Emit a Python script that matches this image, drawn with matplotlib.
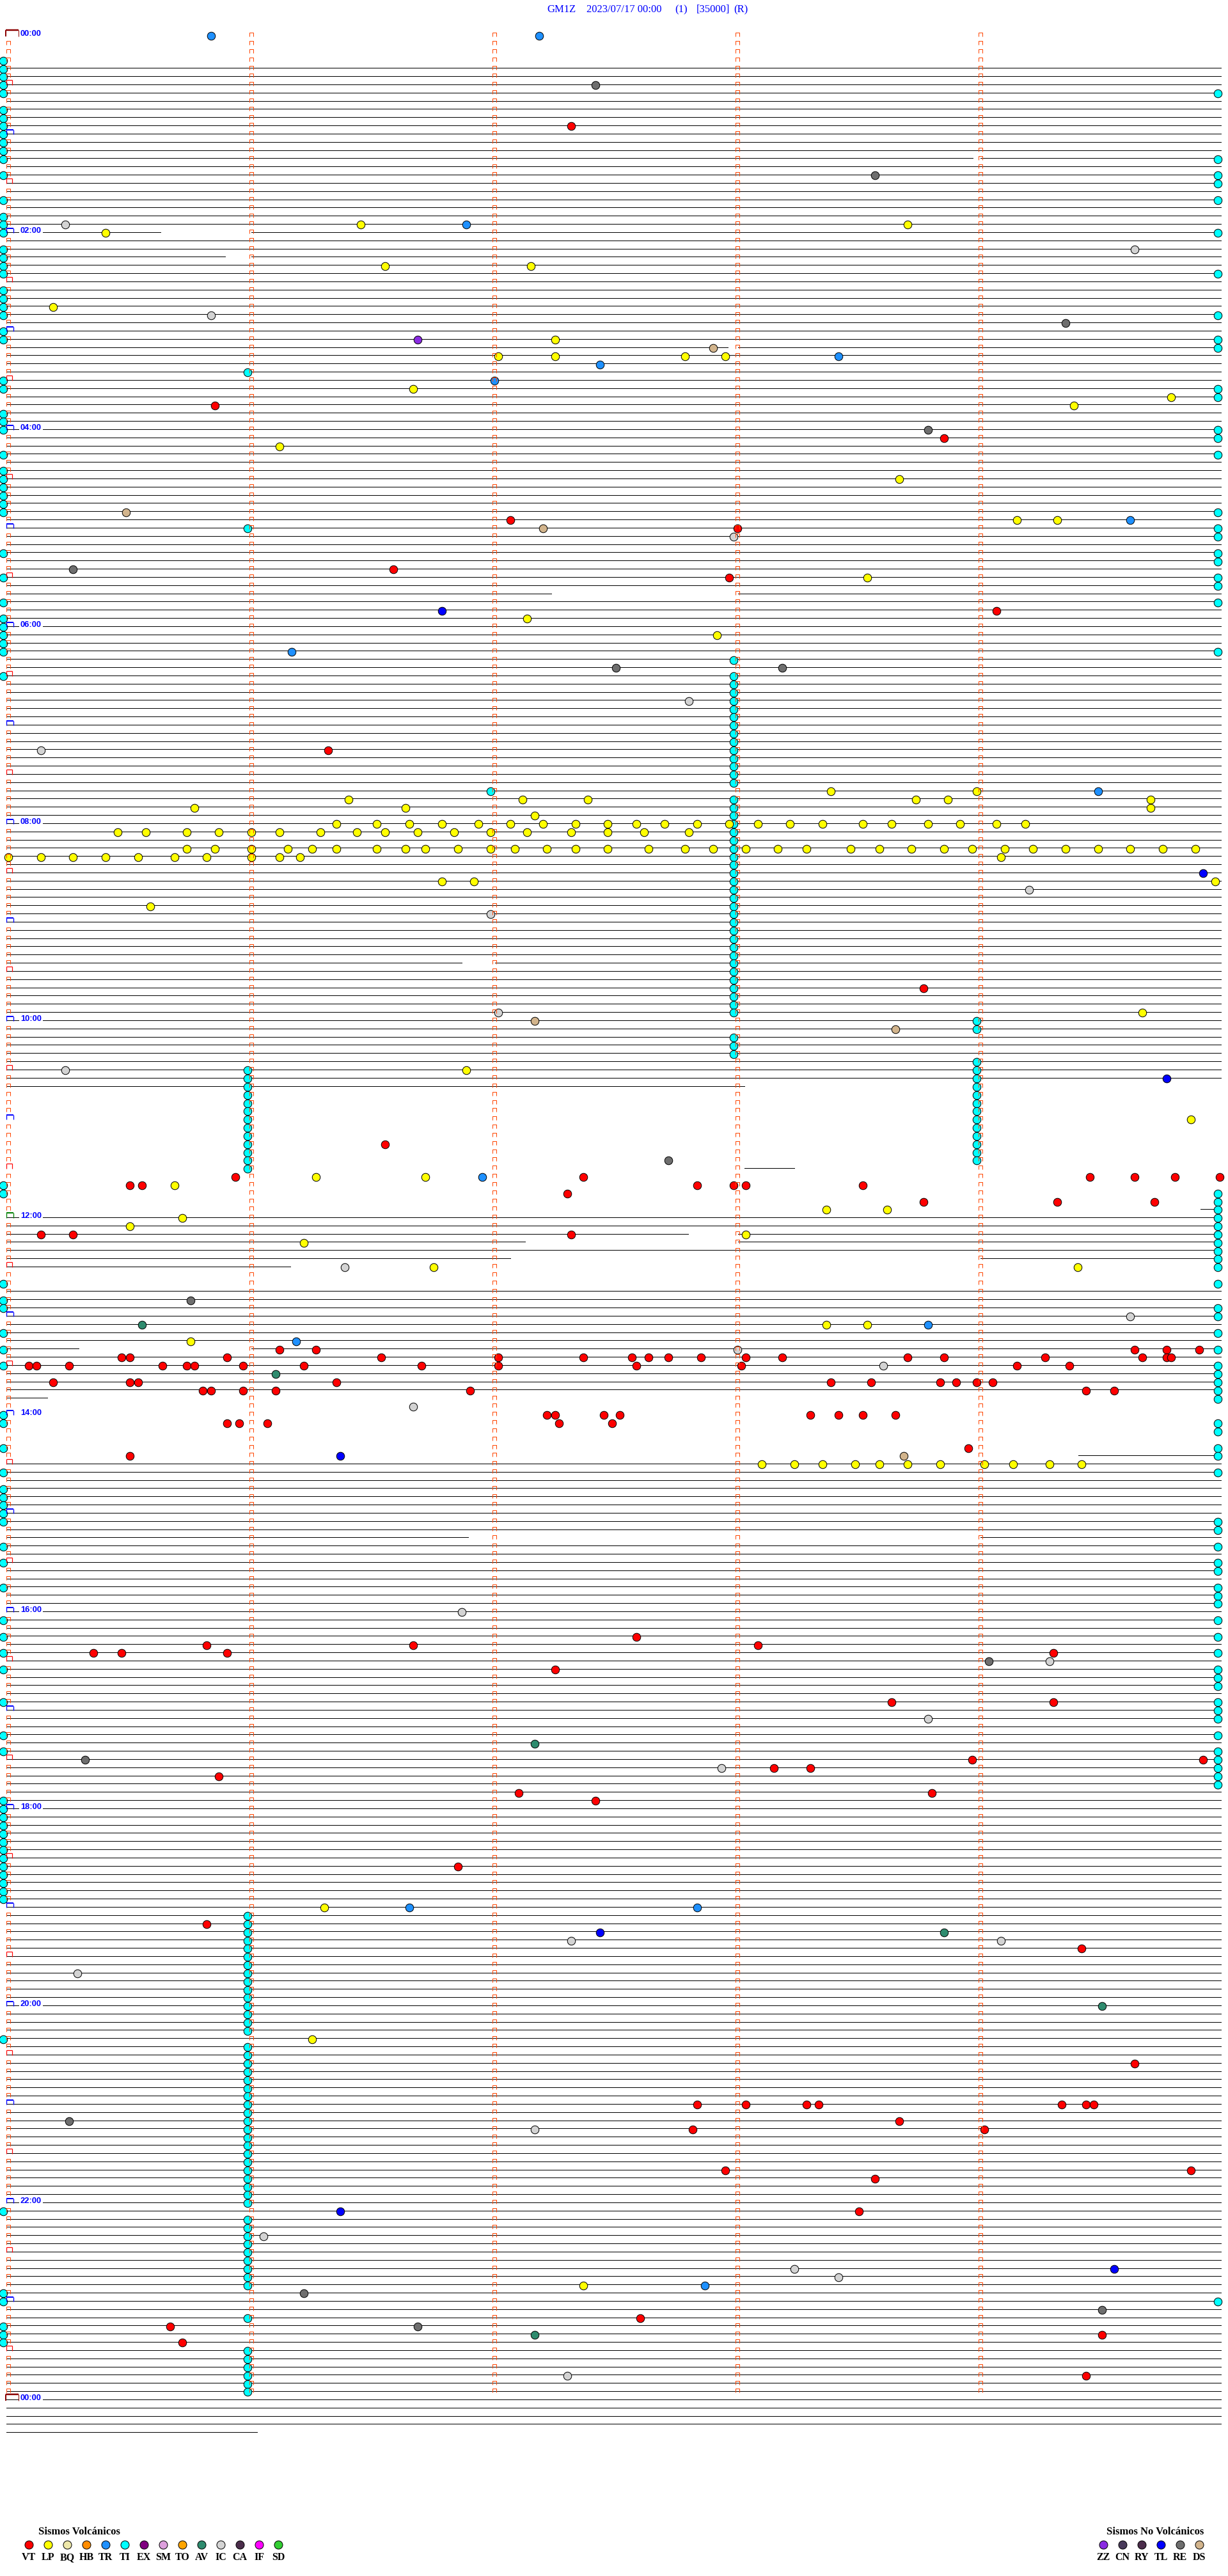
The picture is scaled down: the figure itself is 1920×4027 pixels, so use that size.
import matplotlib
matplotlib.use("Agg")
import matplotlib.pyplot as plt
from matplotlib.collections import LineCollection
from matplotlib.path import Path

# ---------------- data ----------------
title_parts = ["GM1Z", "2023/07/17 00:00", "(1)", "[35000]", "(R)"]
title_x_px = [855, 917, 1055, 1089, 1147]

hour_label_rows = [0, 24, 48, 72, 96, 120, 144, 168, 192, 216, 240, 264, 288]
hour_labels = ["00:00", "02:00", "04:00", "06:00", "08:00", "10:00", "12:00",
               "14:00", "16:00", "18:00", "20:00", "22:00", "00:00"]

n_rows = 293          # 5-minute rows
marker_rows = 288      # rows carrying minute ticks
minute_ticks = [0, 60, 120, 180, 240]
trace_start, trace_end = -0.45, 299.4

# gaps in the trace: (row, from second, to second)
gaps = [
    (0, -1, 300), (1, -1, 300), (2, -1, 300), (3, -1, 300),
    (15, 238.1, 240.0), (24, 37.6, 60.0), (27, 53.5, 60.0), (38, 177.7, 180.2),
    (68, 134.0, 180.2), (113, 111.9, 120.1), (128, 181.8, 300),
    (129, -1, 300), (130, -1, 300), (131, -1, 300), (132, -1, 300), (133, -1, 300),
    (134, -1, 300), (135, -1, 300), (136, -1, 300), (137, -1, 300),
    (138, -1, 181.8), (138, 194.0, 300),
    (139, -1, 300), (140, -1, 300), (141, -1, 300), (142, -1, 300),
    (143, -1, 294.3), (146, 167.8, 180.2), (147, 127.5, 180.2), (149, 123.9, 240.0),
    (150, 69.6, 300), (151, -1, 300), (152, -1, 300), (160, 17.4, 60.0),
    (166, 9.6, 300), (167, -1, 300), (168, -1, 300), (169, -1, 300), (170, -1, 300),
    (171, -1, 300), (172, -1, 300), (173, -1, 264.2), (183, 113.6, 240.0),
    (292, 61.4, 300),
]

# events: (row, second within the 5-minute row)
vt_events = [
    (11, 139), (45, 51), (49, 231), (59, 124), (60, 180), (65, 95), (66, 178), (70, 244),
    (87, 79), (116, 226), (135, 93),
    (139, 56), (139, 142), (139, 267), (139, 278), (139, 288), (139, 299),
    (140, 30), (140, 33), (140, 170), (140, 179), (140, 182), (140, 211),
    (141, 138), (142, 226), (142, 259), (142, 283), (146, 8), (146, 16), (146, 139),
    (160, 67), (160, 76), (160, 278), (160, 286), (160, 294),
    (161, 28), (161, 30), (161, 54), (161, 92), (161, 121), (161, 142), (161, 154),
    (161, 158), (161, 163), (161, 171), (161, 182), (161, 191), (161, 222), (161, 231),
    (161, 256), (161, 280), (161, 286), (161, 287),
    (162, 5), (162, 7), (162, 15), (162, 38), (162, 44), (162, 46), (162, 58), (162, 73),
    (162, 102), (162, 121), (162, 155), (162, 181), (162, 249), (162, 262),
    (164, 11), (164, 30), (164, 32), (164, 81), (164, 203), (164, 213), (164, 230),
    (164, 234), (164, 239), (164, 243),
    (165, 48), (165, 50), (165, 58), (165, 66), (165, 114), (165, 266), (165, 273),
    (168, 133), (168, 135), (168, 147), (168, 151), (168, 198), (168, 205), (168, 211), (168, 219),
    (169, 54), (169, 57), (169, 64), (169, 136), (169, 149),
    (172, 237), (173, 30), (195, 155), (196, 49), (196, 100), (196, 185),
    (197, 21), (197, 28), (197, 54), (197, 258), (199, 135), (203, 218), (203, 258),
    (210, 238), (210, 295), (211, 189), (211, 198), (212, 52), (214, 126), (214, 228),
    (215, 145), (223, 111), (230, 49), (233, 265), (247, 278),
    (252, 170), (252, 182), (252, 197), (252, 200), (252, 260), (252, 266), (252, 268),
    (254, 220), (255, 169), (255, 241), (260, 177), (260, 292), (261, 214), (265, 210),
    (278, 156), (279, 40), (280, 270), (281, 43), (285, 266),
]

lp_events = [
    (23, 87), (23, 222), (24, 24), (28, 93), (28, 129), (33, 11), (37, 135),
    (39, 121), (39, 135), (39, 167), (39, 177), (43, 100), (44, 287), (45, 263), (50, 67),
    (54, 220), (59, 249), (59, 259), (66, 212), (71, 128), (73, 175), (92, 203), (92, 239),
    (93, 84), (93, 127), (93, 143), (93, 224), (93, 232), (93, 282),
    (94, 46), (94, 98), (94, 282), (95, 130),
    (96, 81), (96, 91), (96, 99), (96, 107), (96, 116), (96, 124), (96, 132), (96, 140),
    (96, 148), (96, 155), (96, 162), (96, 170), (96, 178), (96, 185), (96, 193), (96, 201),
    (96, 211), (96, 218), (96, 227), (96, 235), (96, 244), (96, 251),
    (97, 27), (97, 34), (97, 44), (97, 52), (97, 60), (97, 67), (97, 77), (97, 86), (97, 93),
    (97, 101), (97, 110), (97, 119), (97, 128), (97, 139), (97, 148), (97, 157), (97, 168),
    (99, 44), (99, 51), (99, 60), (99, 69), (99, 75), (99, 81), (99, 91), (99, 98), (99, 103),
    (99, 111), (99, 119), (99, 125), (99, 133), (99, 140), (99, 148), (99, 158), (99, 167),
    (99, 174), (99, 182), (99, 190), (99, 197), (99, 208), (99, 215), (99, 223), (99, 231),
    (99, 238), (99, 246), (99, 253), (99, 261), (99, 269), (99, 277), (99, 285), (99, 293),
    (100, 0), (100, 8), (100, 16), (100, 24), (100, 32), (100, 41), (100, 49), (100, 60),
    (100, 67), (100, 72), (100, 245),
    (103, 107), (103, 115), (103, 298), (106, 35), (119, 280), (126, 113), (132, 292),
    (139, 76), (139, 103), (140, 41), (143, 202), (143, 217), (144, 43), (145, 30),
    (146, 182), (147, 73), (150, 105), (150, 264), (157, 202), (157, 212), (159, 45),
    (174, 186), (174, 194), (174, 201), (174, 209), (174, 215), (174, 222), (174, 230),
    (174, 241), (174, 248), (174, 257), (174, 265),
    (228, 78), (244, 75), (274, 142),
]

tr_events = [(0, 50), (0, 131), (23, 113), (39, 205), (40, 146), (42, 120), (59, 277),
             (75, 70), (92, 269), (139, 117), (157, 227), (159, 71), (228, 99), (228, 170),
             (274, 172)]

tl_events = [(70, 107), (102, 295), (127, 286), (173, 82), (231, 146), (265, 82), (272, 273)]

re_events = [(6, 145), (17, 214), (35, 261), (48, 227), (65, 16), (77, 150), (77, 191),
             (137, 163), (154, 45), (198, 242), (210, 19), (254, 15), (275, 73), (277, 270),
             (279, 101)]

ic_events = [(23, 14), (26, 278), (34, 50), (61, 179), (81, 168), (87, 8), (104, 252),
             (107, 119), (119, 121), (126, 14), (150, 83), (156, 277), (160, 180), (162, 216),
             (167, 100), (192, 112), (198, 257), (205, 227), (211, 176), (232, 139), (232, 245),
             (236, 17), (255, 130), (268, 63), (272, 194), (273, 205), (285, 138)]

ds_events = [(38, 174), (58, 29), (60, 132), (120, 130), (121, 219), (173, 221)]
zz_events = [(37, 101)]
av_events = [(157, 33), (163, 66), (208, 130), (231, 231), (240, 270), (280, 130)]

# tremor (TI) marks, grouped by the second where they sit
ti_left_rows = [3, 4, 5, 6, 7, 9, 10, 11, 12, 13, 14, 15, 17, 20, 22, 23, 24, 26, 27, 28, 29,
                31, 32, 33, 34, 36, 37, 42, 43, 46, 47, 48, 51, 53, 54, 55, 56, 57, 58, 63, 66,
                69, 71, 72, 73, 74, 75, 78, 140, 141, 152, 154, 155, 158, 160, 162, 168, 169,
                172, 175, 177, 178, 179, 180, 181, 184, 186, 189, 193, 195, 197, 199, 203, 207,
                209, 215, 216, 217, 218, 219, 220, 221, 222, 223, 224, 225, 226, 227, 244, 265,
                275, 276, 279, 280, 281]
ti_right_rows = [7, 15, 17, 18, 20, 24, 29, 34, 37, 38, 43, 44, 48, 49, 51, 58, 60, 61, 63, 64,
                 66, 67, 69, 75, 141, 142, 143, 144, 145, 146, 147, 148, 149, 150, 152, 155, 156,
                 158, 160, 162, 163, 164, 165, 166, 169, 170, 172, 173, 175, 181, 182, 184, 186,
                 187, 189, 190, 191, 193, 195, 197, 199, 200, 201, 203, 204, 205, 207, 209, 210,
                 211, 212, 213, 276]
ti_59_rows = [41, 60, 126, 127, 128, 129, 130, 131, 132, 133, 134, 135, 136, 137, 138,
              229, 230, 231, 232, 233, 234, 235, 236, 237, 238, 239, 240, 241, 242, 243,
              245, 246, 247, 248, 249, 250, 251, 252, 253, 254, 255, 256, 257, 258, 259, 260,
              261, 262, 263, 264, 266, 267, 268, 269, 270, 271, 272, 273, 274, 278,
              282, 283, 284, 285, 286, 287]
ti_179_rows = [76, 78, 79, 80, 81, 82, 83, 84, 85, 86, 87, 88, 89, 90, 91,
               93, 94, 95, 96, 97, 98, 99, 100, 101, 102, 103, 104, 105, 106, 107, 108, 109,
               110, 111, 112, 113, 114, 115, 116, 117, 118, 119, 122, 123, 124]
ti_239_rows = [120, 121, 125, 126, 127, 128, 129, 130, 131, 132, 133, 134, 135, 136, 137]
ti_other = [(92, 119)]
ti_columns = {-1.25: ti_left_rows, 298.6: ti_right_rows, 59: ti_59_rows,
              179: ti_179_rows, 239: ti_239_rows}

volc_types = ["VT", "LP", "BQ", "HB", "TR", "TI", "EX", "SM", "TO", "AV", "IC", "CA", "IF", "SD"]
volc_colors = ["#FF0000", "#FFFF00", "#EEE8AA", "#FF8C00", "#1E90FF", "#00FFFF", "#800080",
               "#DDA0DD", "#FFA500", "#2E8B6E", "#D3D3D3", "#4B2D4B", "#FF00FF", "#32CD32"]
nonvolc_types = ["ZZ", "CN", "RY", "TL", "RE", "DS"]
nonvolc_colors = ["#8A2BE2", "#483A5A", "#4B2D4B", "#0000FF", "#6E6E6E", "#D2B48C"]

# ---------------- layout helpers (pixel geometry of the page) ----------------
W, H = 1920, 4027
X0, PX_S = 13.0, 380.0 / 60   # x pixel of second 0, pixels per second
Y0, PX_R = 55.0, 12.833       # y pixel of row 0, pixels per row


def px2s(x):
    return (x - X0) / PX_S


def px2r(y):
    return (y - Y0) / PX_R


def pt(px):
    return px * 0.72


fig = plt.figure(figsize=(W / 100, H / 100), dpi=100)
ax = fig.add_axes([0, 0, 1, 1])
ax.set_xlim(px2s(0), px2s(W))
ax.set_ylim(px2r(H), px2r(0))
ax.axis("off")

# traces
segs = []
for row in range(n_rows):
    parts = [(trace_start, trace_end)]
    for r, g0, g1 in gaps:
        if r != row:
            continue
        new = []
        for a, b in parts:
            if g1 <= a or g0 >= b:
                new.append((a, b))
                continue
            if g0 > a:
                new.append((a, g0))
            if g1 < b:
                new.append((g1, b))
        parts = new
    for a, b in parts:
        segs.append([(a, row), (b, row)])
ax.add_collection(LineCollection(segs, colors="black", linewidths=pt(1.0),
                                 antialiaseds=False, zorder=1))

# minute ticks (small orange-red caps)
cap = Path([(-0.42, -0.5), (-0.42, 0.5), (0.42, 0.5), (0.42, -0.5)],
           [Path.MOVETO, Path.LINETO, Path.LINETO, Path.LINETO])
hour_rows = set(range(0, marker_rows, 12))
half_rows = set(range(6, marker_rows, 12))
tx, ty = [], []
for row in range(marker_rows):
    for s in minute_ticks:
        if s == 0 and (row in hour_rows or row in half_rows):
            continue
        tx.append(s)
        ty.append(row - 0.7 / PX_R)
ax.plot(tx, ty, ls="none", marker=cap, ms=pt(6), mec="#FF4500", mfc="none",
        mew=pt(1), zorder=4)


def bracket(row, x_l, x_r, up, down, color, lw_top, lw_l, lw_r):
    yb = row + down / PX_R
    yt = row - up / PX_R
    sl, sr = px2s(x_l), px2s(x_r)
    ax.plot([sl, sr], [yt, yt], color=color, lw=pt(lw_top), solid_capstyle="butt", zorder=5)
    ax.plot([sl, sl], [yt, yb], color=color, lw=pt(lw_l), solid_capstyle="butt", zorder=5)
    ax.plot([sr, sr], [yt, yb], color=color, lw=pt(lw_r), solid_capstyle="butt", zorder=5)


for row in range(marker_rows + 1):
    if row % 288 == 0:
        bracket(row, 9, 29, 8, 2, "#8B0000", 2.5, 2, 1)
    elif row == 144:
        bracket(row, 9.5, 21, 7, 1.5, "#008000", 2, 1.3, 1.3)
    elif row in hour_rows:
        bracket(row, 9.5, 20.5, 6.3, 1.3, "#0000FF", 2, 1.3, 1.3)
    elif row in half_rows:
        bracket(row, 10, 19, 7, 1, "#FF0000", 1.2, 1.2, 1.2)

# hour labels
for row, lab in zip(hour_label_rows, hour_labels):
    ax.text(px2s(32), row + 0.06, lab, color="#0000FF", fontsize=9.3, fontweight="bold",
            family="Liberation Sans", ha="left", va="baseline", zorder=6,
            bbox=dict(facecolor="white", edgecolor="none", pad=1.5))

# events
dy = 1.3 / PX_R
circle = dict(ls="none", marker="o", ms=pt(12.5), mec="black", mew=pt(1), zorder=3)
ti_color = volc_colors[volc_types.index("TI")]
for s, rows in ti_columns.items():
    ax.plot([s] * len(rows), [r + dy for r in rows], mfc=ti_color, **circle)
ax.plot([e[1] for e in ti_other], [e[0] + dy for e in ti_other], mfc=ti_color, **circle)

event_sets = [
    (vt_events, volc_colors[0]), (lp_events, volc_colors[1]), (tr_events, volc_colors[4]),
    (ic_events, volc_colors[10]), (av_events, volc_colors[9]),
    (tl_events, nonvolc_colors[3]), (re_events, nonvolc_colors[4]),
    (ds_events, nonvolc_colors[5]), (zz_events, nonvolc_colors[0]),
]
for events, color in event_sets:
    ax.plot([e[1] for e in events], [e[0] + dy for e in events], mfc=color, **circle)

# header
for txt, x in zip(title_parts, title_x_px):
    ax.text(px2s(x), px2r(19), txt, color="#0000FF", fontsize=12, family="Liberation Serif",
            ha="left", va="baseline")

# legend
ax.text(px2s(124), px2r(3962), "Sismos Volcánicos", fontsize=12, fontweight="bold",
        family="Liberation Serif", ha="center", va="baseline")
for i, (t, c) in enumerate(zip(volc_types, volc_colors)):
    x = px2s(45 + 30 * i)
    ax.plot([x], [px2r(3978)], ls="none", marker="o", ms=pt(13), mfc=c, mec="black",
            mew=pt(1))
    ax.text(x, px2r(4002), t, fontsize=11.5, fontweight="bold", family="Liberation Serif",
            ha="center", va="baseline")

ax.text(px2s(1806), px2r(3962), "Sismos No Volcánicos", fontsize=12, fontweight="bold",
        family="Liberation Serif", ha="center", va="baseline")
for i, (t, c) in enumerate(zip(nonvolc_types, nonvolc_colors)):
    x = px2s(1725 + 30 * i)
    ax.plot([x], [px2r(3978)], ls="none", marker="o", ms=pt(13), mfc=c, mec="black",
            mew=pt(1))
    ax.text(x, px2r(4002), t, fontsize=11.5, fontweight="bold", family="Liberation Serif",
            ha="center", va="baseline")

fig.savefig("out.png", dpi=100, facecolor="white")
